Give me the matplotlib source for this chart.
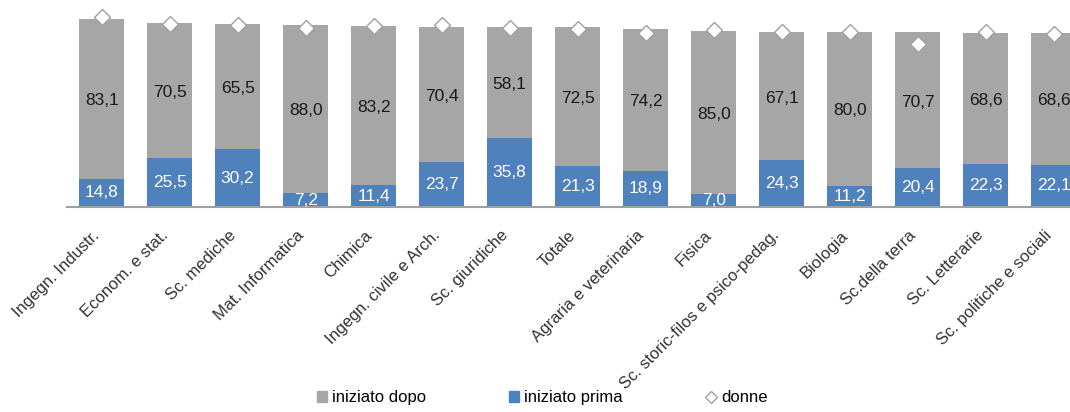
import matplotlib.pyplot as plt
from matplotlib.patches import Patch
from matplotlib.lines import Line2D
from matplotlib.transforms import ScaledTranslation
import numpy as np

plt.rcParams['font.family'] = ['Liberation Sans', 'DejaVu Sans']

# dati
categorie = ["Ingegn. Industr.", "Econom. e stat.", "Sc. mediche", "Mat. Informatica",
             "Chimica", "Ingegn. civile e Arch.", "Sc. giuridiche", "Totale",
             "Agraria e veterinaria", "Fisica", "Sc. storic-filos e psico-pedag.",
             "Biologia", "Sc.della terra", "Sc. Letterarie", "Sc. politiche e sociali"]
iniziato_prima = [14.8, 25.5, 30.2, 7.2, 11.4, 23.7, 35.8, 21.3, 18.9, 7.0, 24.3, 11.2, 20.4, 22.3, 22.1]
iniziato_dopo = [83.1, 70.5, 65.5, 88.0, 83.2, 70.4, 58.1, 72.5, 74.2, 85.0, 67.1, 80.0, 70.7, 68.6, 68.6]
donne = [99.0, 95.3, 94.8, 93.2, 94.2, 94.8, 93.2, 92.7, 90.6, 92.1, 91.1, 91.1, 84.8, 91.1, 90.1]

col_dopo = '#a6a6a6'
col_prima = '#4f81bd'

def fmt(v):
    return f"{v:.1f}".replace('.', ',')

fig = plt.figure(figsize=(10.7, 4.12), dpi=100)
ax = fig.add_axes([0.0626, 0.4976, 0.9374, 0.5024])

x = np.arange(len(categorie))
w = 0.66
ax.bar(x, iniziato_prima, w, color=col_prima, zorder=2)
ax.bar(x, iniziato_dopo, w, bottom=iniziato_prima, color=col_dopo, zorder=2)
ax.plot(x, donne, linestyle='none', marker='D', ms=8, mfc='white', mec='#a0a0a0',
        mew=1, zorder=4, clip_on=False)

for i in x:
    p = iniziato_prima[i]
    d = iniziato_dopo[i]
    ax.text(i, p / 2, fmt(p), ha='center', va='center', color='white', fontsize=12.5, zorder=3)
    ax.text(i, p + d / 2 - 1, fmt(d), ha='center', va='center', color='#1a1a1a', fontsize=12.5, zorder=3)

ax.set_xlim(-0.51, 14.24)
ax.set_ylim(0, 108)
for s in ['top', 'right', 'left']:
    ax.spines[s].set_visible(False)
ax.spines['bottom'].set_color('#a0a0a0')
ax.spines['bottom'].set_linewidth(1.5)
ax.set_yticks([])
ax.set_xticks(x)
ax.set_xticklabels(categorie, rotation=45, ha='right', va='top', rotation_mode='anchor',
                   fontsize=12, color='#333333')
ax.tick_params(axis='x', length=0, pad=15)
shift = ScaledTranslation(-7 / 72, 0, fig.dpi_scale_trans)
for lab in ax.get_xticklabels():
    lab.set_transform(lab.get_transform() + shift)

handles = [Patch(color=col_dopo), Patch(color=col_prima),
           Line2D([], [], linestyle='none', marker='D', ms=6, mfc='white', mec='#a0a0a0')]
fig.legend(handles, ["iniziato dopo", "iniziato prima", "donne"], loc='lower center',
           bbox_to_anchor=(0.507, -0.02), ncol=3, frameon=False, fontsize=12,
           handlelength=0.6, handleheight=0.6, handletextpad=0.3, columnspacing=5)

fig.savefig('out.png', dpi=100)
